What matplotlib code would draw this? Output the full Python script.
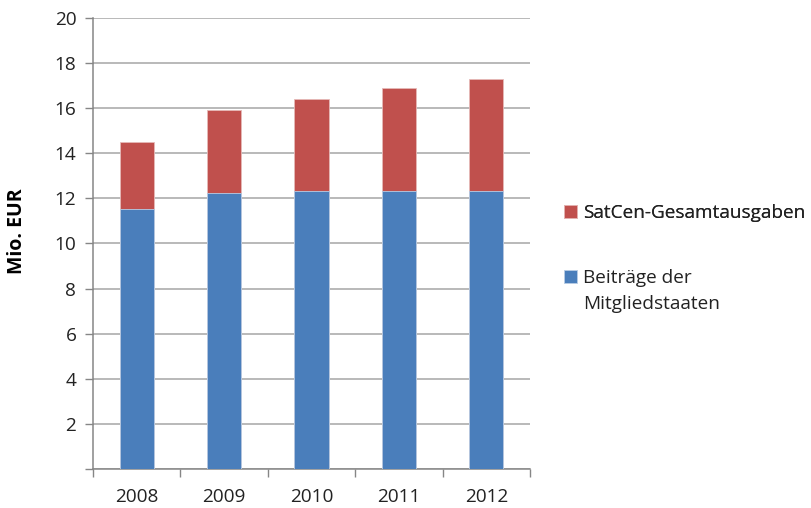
import numpy as np
import matplotlib
matplotlib.use('Agg')
import matplotlib.pyplot as plt
from matplotlib.patches import Patch

years = ['2008', '2009', '2010', '2011', '2012']
beitraege = [11.55, 12.22, 12.33, 12.33, 12.33]
gesamt = [14.5, 15.92, 16.39, 16.9, 17.28]
label_red = 'SatCen-Gesamtausgaben'
label_blue = ['Beiträge der', 'Mitgliedstaaten']

plt.rcParams['font.family'] = ['Open Sans', 'DejaVu Sans']
fs = 13.7

fig = plt.figure(figsize=(8.12, 5.08), dpi=100)
ax = fig.add_axes([0.1145, 0.0768, 0.5382, 0.8878])

x = np.arange(len(years))
w = 0.39
red = ax.bar(x, gesamt, w, color='#C0504D', edgecolor='#E6B9B8', linewidth=0.6, zorder=2)
blue = ax.bar(x, beitraege, w, color='#4A7EBB', edgecolor='#B9CDE5', linewidth=0.6, zorder=3)

ax.set_xlim(-0.5, len(years) - 0.5)
ax.set_ylim(0, 20)
ax.set_yticks(np.arange(0, 21, 2))
ax.set_yticklabels([''] + [str(v) for v in range(2, 21, 2)])
ax.set_xticks(x)
ax.set_xticklabels(years)
ax.set_xticks(np.arange(-0.5, len(years), 1), minor=True)
ax.tick_params(axis='x', which='major', length=0, pad=14, labelsize=fs, colors='#222222')
ax.tick_params(axis='x', which='minor', length=6, color='#868686', width=1)
ax.tick_params(axis='y', length=6, color='#868686', width=1, labelsize=fs, pad=6, labelcolor='#222222')

ax.yaxis.grid(True, color='#A6A6A6', linewidth=1.1, zorder=0)
ax.set_axisbelow(True)
for s in ['top', 'right']:
    ax.spines[s].set_visible(False)
for s in ['left', 'bottom']:
    ax.spines[s].set_color('#868686')
    ax.spines[s].set_linewidth(1.1)

ax.set_ylabel('Mio. EUR', fontsize=14, fontweight='bold')
ax.yaxis.set_label_coords(-0.152, 0.528)

common = dict(loc='center left', frameon=False, fontsize=fs, handlelength=0.65,
              handleheight=0.65, handletextpad=0.35, borderpad=0, borderaxespad=0)
leg1 = fig.legend([red], [label_red], bbox_to_anchor=(0.695, 0.5807), **common)
empty = Patch(facecolor='none', edgecolor='none')
leg2 = fig.legend([blue, empty], label_blue, bbox_to_anchor=(0.695, 0.4272),
                  labelspacing=0.38, **common)
fig.add_artist(leg1)
for t in leg1.get_texts() + leg2.get_texts():
    t.set_color('#222222')

fig.savefig('out.png', dpi=100)
